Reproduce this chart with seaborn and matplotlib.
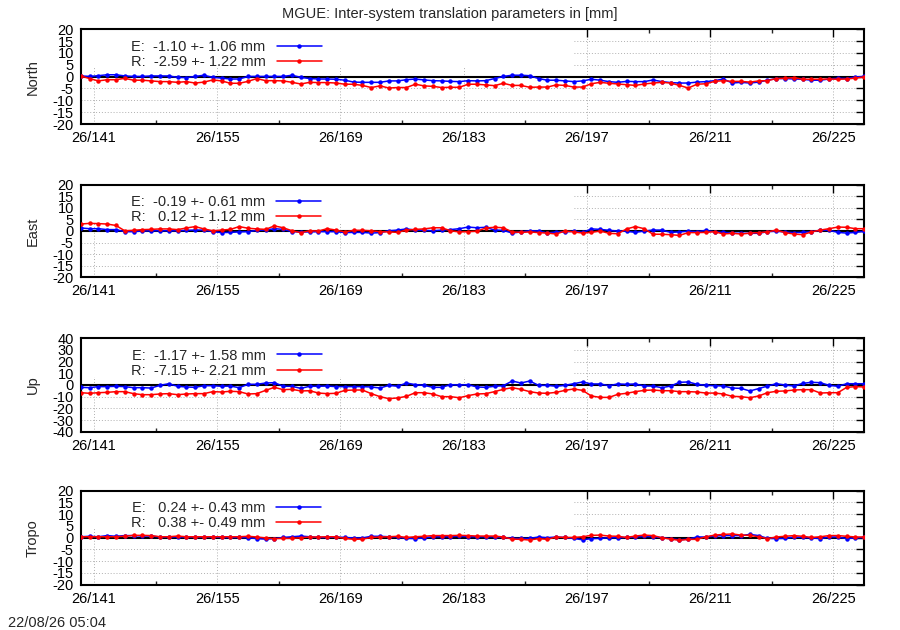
import numpy as np
import pandas as pd
import matplotlib
matplotlib.use("Agg")
import matplotlib.pyplot as plt
from matplotlib.patches import Rectangle
import seaborn as sns

# ---------------- data ----------------
day_of_year = np.arange(140, 230) - 0.5   # daily solutions (midday)

north_E = [0.3, 0.1, 0.4, 0.8, 0.8, 0.3, 0.1, 0.1, 0.3, 0.3, 0.3, -0.3, -0.4, 0.1, 0.6, -0.3, -0.6, -1.0, -1.0, 0.1,
           0.1, 0.1, 0.1, 0.1, 0.6, -0.3, -0.8, -1.0, -1.0, -1.1, -1.5, -2.3, -2.4, -2.4, -2.4, -1.8, -1.8, -1.3, -1.0, -1.4,
           -1.7, -1.8,
           -2.0, -2.1, -1.7, -1.8, -1.7, -0.8, 0.1, 0.6, 0.6, 0.4, -0.8, -1.5, -1.5, -1.8, -2.1, -1.8, -1.1, -1.5, -2.1, -2.4,
           -2.0, -2.1, -2.1, -1.4, -2.1, -2.5, -2.7, -2.7, -2.3, -2.1, -1.7, -1.0, -2.7, -2.4, -2.7, -2.3, -1.5, -0.8, -0.8,
           -1.0, -1.1, -1.5, -1.5, -1.0, -0.7, -0.8, -0.1, 0.1]
north_R = [0.3, -0.8, -1.8, -1.3, -1.3, -0.7, -1.5, -1.5, -1.8, -2.1, -2.1, -2.4, -2.1, -2.7, -2.3, -1.4, -1.8, -2.8, -2.8,
           -2.0, -0.8, -1.7, -1.7, -1.8, -2.4, -3.1, -2.4, -2.5, -2.5, -2.7, -3.2, -3.2, -3.7, -4.6, -3.9, -4.8, -4.6, -4.6,
           -3.2, -3.9, -4.1, -4.6,
           -4.5, -4.5, -3.2, -3.2, -3.5, -3.8, -2.8, -3.7, -3.7, -4.5, -4.4, -4.4, -3.5, -3.7, -4.4, -4.4, -3.0, -2.4, -2.8,
           -3.1, -3.4, -3.7, -3.1, -2.7, -2.4, -2.7, -3.7, -4.8, -3.2, -3.0, -2.0, -1.7, -2.0, -2.0, -2.3, -1.8, -1.7, -0.8,
           -0.7, -0.4, -1.1, -1.1, -1.1, -1.0, -1.1, -1.0, -0.6, -0.1]
east_E = [1.3, 1.0, 1.0, 0.6, 0.6, -0.3, -0.3, 0.0, 0.1, 0.1, 0.1, 0.1, 0.3, 0.4, 0.4, -0.3, -0.7, -0.6, -0.4, -0.3,
          0.3, 0.4, 1.0, 0.7, -0.3, -0.4, -0.4, -0.3, -0.3, -0.3, -0.7, -0.6, -0.6, -0.9, -0.7, 0.1, 0.4, 0.9, 0.4, 0.3,
          0.1, 0.4,
          0.6, 1.0, 1.7, 1.4, 1.6, 0.4, 0.3, -0.9, -0.4, 0.1, 0.0, -0.9, -0.4, -0.4, -0.1, -0.6, 0.9, 0.7, 0.3, 0.0,
          -0.1, -0.6, 0.0, 0.4, 0.4, -0.6, -0.4, -0.1, -0.3, 0.3, -0.4, -0.6, -0.9, -1.0, -1.0, -1.0, -0.3, -0.1, -0.4,
          -0.7, -0.6, -0.3, 0.3, 0.3, -0.6, -0.9, -0.6, -0.1]
east_R = [3.0, 3.3, 3.2, 3.0, 2.4, 0.1, 0.3, 0.6, 0.7, 0.9, 0.9, 0.6, 1.3, 1.9, 0.9, 0.1, 0.4, 0.7, 1.9, 1.2,
          0.9, 0.7, 2.2, 1.4, 0.1, -0.7, 0.1, 0.0, 1.0, 0.4, -0.4, 0.3, 0.3, 0.1, -0.3, -0.4, -0.6, 0.4, 0.7, 0.9,
          1.4, 1.4,
          0.1, -0.4, -0.3, -0.1, 1.3, 1.6, 1.4, -0.4, -0.6, -0.4, -0.7, -0.9, -1.3, 0.0, -0.4, -0.9, -0.6, 0.0, -1.0,
          -1.2, 0.9, 1.9, 1.0, -1.4, -1.4, -1.6, -1.9, -0.7, -0.7, -0.6, -0.3, -1.3, -1.0, -1.3, -0.9, -0.7, -0.4, 0.4,
          -0.7, -1.3, -1.6, -0.4, 0.4, 1.0, 1.7, 1.6, 1.0, 1.0]
up_E = [-2.0, -2.3, -1.4, -1.4, -1.1, -1.4, -2.3, -2.3, -2.6, -0.3, 1.1, -1.1, -1.7, -2.0, -0.6, -0.6, -1.1, -0.9, -2.3,
        0.6, 0.6, 1.7, 2.0, -1.1, -1.1, -2.9, -1.1, -1.1, -0.9, -1.4, -1.4, -1.4, -1.4, -1.7, -2.6, -0.3, -1.1, 1.7,
        0.3, -0.3, -2.0, -2.0,
        0.3, 0.0, 0.3, -1.7, -2.0, -1.1, -0.6, 3.4, 1.7, 3.4, -0.3, -0.3, -1.1, -0.3, 1.1, 2.6, 0.9, 0.9, -0.6, 0.9,
        0.6, 0.9, -0.9, -0.9, -2.3, -0.9, 2.3, 2.6, 0.6, -0.3, -0.6, -0.9, -2.6, -2.9, -5.1, -3.1, -0.9, 1.1, 0.0,
        -0.9, 1.4, 2.3, 2.0, -0.3, -1.1, 1.1, 1.1, 1.1]
up_R = [-6.6, -7.1, -6.6, -6.3, -5.7, -5.7, -7.4, -8.3, -8.3, -7.7, -7.4, -8.3, -7.7, -7.4, -7.4, -5.7, -6.0, -5.4,
        -5.7, -7.7, -7.4, -4.6, -2.0, -4.0, -3.7, -5.1, -4.9, -6.9, -7.4, -7.1, -4.6, -4.3, -4.3, -7.4, -10.0, -11.7,
        -11.1, -9.7, -6.6, -6.6, -7.7, -10.0,
        -10.0, -10.9, -9.1, -7.7, -7.4, -5.7, -3.7, -2.3, -3.7, -5.7, -6.9, -7.1, -6.3, -4.6, -3.4, -4.6, -9.4, -10.6,
        -10.6, -8.0, -7.1, -5.7, -4.6, -4.3, -4.9, -4.9, -5.7, -5.7, -6.0, -6.9, -6.9, -7.7, -9.7, -10.0, -10.9, -9.4,
        -6.6, -5.4, -5.1, -4.3, -4.0, -4.0, -6.9, -6.6, -6.6, -2.0, -1.4, -1.7]
tropo_E = [0.4, 0.6, 0.4, 0.9, 0.6, 0.9, 0.9, 0.7, 0.7, 0.3, 0.3, 0.3, 0.3, 0.3, 0.3, 0.3, 0.1, 0.1, 0.1, 0.0,
           -0.4, -0.6, -0.4, 0.1, 0.4, 0.7, 0.4, 0.1, 0.1, 0.3, 0.1, -0.1, -0.1, 0.6, 0.6, 0.4, 0.3, -0.3, -0.4, -0.1,
           0.4, 0.4,
           0.4, 0.6, 0.4, 0.4, 0.4, 0.4, 0.1, -0.3, -0.3, -0.3, 0.3, 0.0, 0.3, 0.1, -0.3, -0.9, -0.4, -0.3, 0.0, 0.0,
           0.1, 0.3, 0.6, 0.4, 0.0, -0.4, -0.9, -0.6, 0.3, 0.3, 0.7, 0.9, 0.9, 0.9, 1.4, 0.9, -0.3, -0.4, -0.3, 0.3,
           0.1, -0.1, -0.4, 0.3, 0.3, -0.4, -0.1, 0.1]
tropo_R = [0.4, 0.4, 0.4, 0.4, 0.4, 0.6, 1.0, 1.0, 0.9, 0.4, 0.4, 0.7, 0.4, 0.4, 0.4, 0.4, 0.4, 0.4, 0.4, 0.6,
           0.3, -0.1, -0.4, -0.3, -0.3, 0.0, 0.3, 0.3, 0.4, 0.4, -0.3, -0.7, -0.6, 0.1, 0.3, 0.4, 0.6, 0.1, 0.4, 0.6,
           0.9, 0.9,
           0.9, 1.0, 0.9, 0.7, 0.7, 0.7, 0.3, -0.6, -0.7, -1.0, -0.4, -0.7, 0.3, 0.1, 0.1, 0.4, 1.0, 1.1, 0.7, 0.6,
           0.1, 0.7, 1.1, 0.9, 0.0, -0.6, -1.1, -0.7, -0.7, 0.4, 1.1, 1.4, 1.6, 1.1, 1.0, 0.4, -0.4, 0.3, 0.6, 0.9,
           0.6, 0.1, 0.4, 0.9, 0.9, 0.6, 0.3, 0.3]

panel_names = ["North", "East", "Up", "Tropo"]
labels_E = ["E:  -1.10 +- 1.06 mm", "E:  -0.19 +- 0.61 mm", "E:  -1.17 +- 1.58 mm", "E:   0.24 +- 0.43 mm"]
labels_R = ["R:  -2.59 +- 1.22 mm", "R:   0.12 +- 1.12 mm", "R:  -7.15 +- 2.21 mm", "R:   0.38 +- 0.49 mm"]
y_limits = [20, 20, 40, 20]
y_steps = [5, 5, 10, 5]
x_major_days = [141, 155, 169, 183, 197, 211, 225]
x_tick_labels = ["26/141", "26/155", "26/169", "26/183", "26/197", "26/211", "26/225"]
x_minor_days = [148, 162, 176, 190, 204, 218]
title_text = "MGUE: Inter-system translation parameters in [mm]"
footer_text = "22/08/26 05:04"

series_E = [north_E, east_E, up_E, tropo_E]
series_R = [north_R, east_R, up_R, tropo_R]

# ---------------- style ----------------
sns.set_style("white")
plt.rcParams['font.family'] = ['Liberation Sans', 'DejaVu Sans']
plt.rcParams['axes.linewidth'] = 1.5
plt.rcParams['axes.unicode_minus'] = False

fig = plt.figure(figsize=(9, 6.3), dpi=100)

px_left, px_right = 80.7, 864.3
panel_px = [(29.3, 124.0), (184.7, 277.3), (338.3, 431.7), (490.7, 584.7)]
W, H = 900.0, 630.0

for i, name in enumerate(panel_names):
    top, bot = panel_px[i]
    ax = fig.add_axes([px_left / W, 1 - bot / H, (px_right - px_left) / W, (bot - top) / H])
    ax.set_axisbelow(True)
    df = pd.DataFrame({"day": day_of_year, "E": series_E[i], "R": series_R[i]})
    sns.lineplot(data=df, x="day", y="E", ax=ax, color="#0000ff", lw=1.1, marker="o",
                 markersize=3.2, markeredgewidth=0, label=labels_E[i], zorder=3)
    sns.lineplot(data=df, x="day", y="R", ax=ax, color="#ff0000", lw=1.1, marker="o",
                 markersize=3.2, markeredgewidth=0, label=labels_R[i], zorder=4)
    ax.axhline(0, color="black", lw=1.5, zorder=2.6)

    lim = y_limits[i]
    ax.set_xlim(day_of_year[0], day_of_year[-1])
    ax.set_ylim(-lim, lim)
    ax.set_yticks(np.arange(-lim, lim + 1, y_steps[i]))
    ax.set_xticks(x_major_days)
    ax.set_xticklabels(x_tick_labels)
    ax.set_xticks(x_minor_days, minor=True)
    ax.tick_params(axis="both", which="major", direction="in", length=5.5, width=1.0,
                   top=True, right=True, labelsize=10.5, pad=5, colors="black")
    ax.tick_params(axis="x", which="minor", direction="in", length=2.8, width=1.0,
                   top=True, bottom=True)
    ax.grid(True, which="major", color="#b0b0b0", lw=0.7, linestyle=(0, (1, 2)))

    # opaque key box, as gnuplot draws it over the grid
    ax.add_patch(Rectangle((0, 0.59), 0.628, 0.41, transform=ax.transAxes,
                           facecolor="white", edgecolor="none", zorder=1))

    ax.set_xlabel("")
    ax.set_ylabel(name, fontsize=10.5)
    ax.yaxis.set_label_coords(-0.052, 0.5)
    for s in ax.spines.values():
        s.set_color("black")
        s.set_linewidth(1.5)

    leg = ax.legend(loc="upper left", bbox_to_anchor=(0.064, 0.89), frameon=False,
                    markerfirst=False, fontsize=10.5, handlelength=3.1, handletextpad=0.75,
                    labelspacing=0.08, borderpad=0, borderaxespad=0)

fig.text(450 / W, 1 - 14 / H, title_text, ha="center", va="center", fontsize=10.5)
fig.text(8 / W, 1 - 623 / H, footer_text, ha="left", va="center", fontsize=10.5)

fig.savefig("out.png", dpi=100)
